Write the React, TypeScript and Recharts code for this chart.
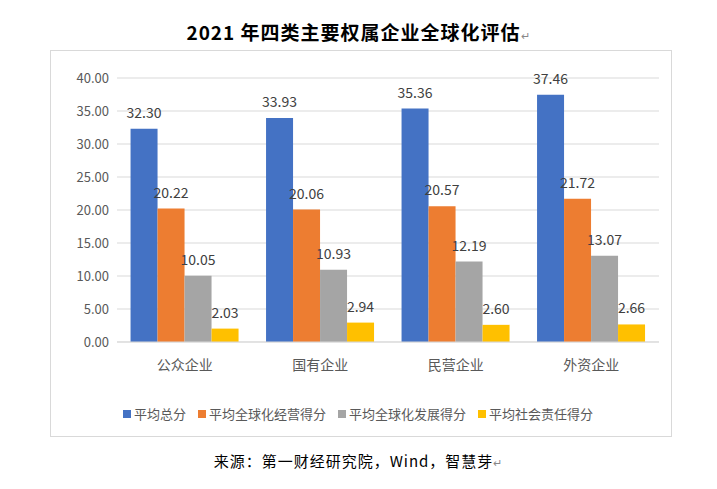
import { BarChart, Bar, XAxis, YAxis, CartesianGrid, Legend, LabelList } from "recharts";

const categories = ["公众企业", "国有企业", "民营企业", "外资企业"];
const totalScore = [32.3, 33.93, 35.36, 37.46];
const operationScore = [20.22, 20.06, 20.57, 21.72];
const developScore = [10.05, 10.93, 12.19, 13.07];
const socialScore = [2.03, 2.94, 2.6, 2.66];
const yTicks = [0, 5, 10, 15, 20, 25, 30, 35, 40];

const data = categories.map((name, i) => ({
  name,
  total: totalScore[i],
  operation: operationScore[i],
  develop: developScore[i],
  social: socialScore[i],
}));

const series = [
  { key: "total", name: "平均总分", color: "#4472C4" },
  { key: "operation", name: "平均全球化经营得分", color: "#ED7D31" },
  { key: "develop", name: "平均全球化发展得分", color: "#A5A5A5" },
  { key: "social", name: "平均社会责任得分", color: "#FFC000" },
];

const font = "'Noto Sans CJK SC', 'Noto Sans', sans-serif";

function LegendContent() {
  return (
    <div style={{ display: "flex", justifyContent: "center", gap: 12, paddingTop: 22, fontSize: 13, color: "#595959" }}>
      {series.map((s) => (
        <span key={s.key} style={{ display: "flex", alignItems: "center" }}>
          <span style={{ width: 8, height: 8, background: s.color, marginRight: 3, display: "inline-block" }} />
          {s.name}
        </span>
      ))}
    </div>
  );
}

export default function App() {
  return (
    <div style={{ position: "absolute", left: 0, top: 0, width: 717, height: 489, background: "#fff", fontFamily: font }}>
      <div style={{ position: "absolute", top: 18, width: 717, textAlign: "center", fontSize: 19, fontWeight: 700, color: "#000", letterSpacing: 1 }}>
        2021 年四类主要权属企业全球化评估<span style={{ fontSize: 11, fontWeight: 400, color: "#888" }}>↵</span>
      </div>
      <div style={{ position: "absolute", left: 50, top: 50, width: 622, height: 387, border: "1px solid #D9D9D9", boxSizing: "border-box" }}>
        <BarChart
          width={620}
          height={385}
          data={data}
          margin={{ top: 27, right: 12, left: 6, bottom: 0 }}
          barGap={0}
          barCategoryGap="10%"
        >
          <CartesianGrid vertical={false} stroke="#D9D9D9" />
          <XAxis
            dataKey="name"
            height={40}
            tickLine={false}
            axisLine={{ stroke: "#D9D9D9" }}
            tick={{ fill: "#595959", fontSize: 14 }}
            tickMargin={12}
          />
          <YAxis
            width={60}
            domain={[0, 40]}
            ticks={yTicks}
            tickFormatter={(v: number) => v.toFixed(2)}
            axisLine={false}
            tickLine={false}
            tick={{ fill: "#595959", fontSize: 13 }}
          />
          <Legend verticalAlign="bottom" height={54} content={<LegendContent />} />
          {series.map((s) => (
            <Bar key={s.key} dataKey={s.key} name={s.name} fill={s.color} isAnimationActive={false}>
              <LabelList
                dataKey={s.key}
                position="top"
                offset={11}
                formatter={(v: number) => v.toFixed(2)}
                style={{ fill: "#404040", fontSize: 14 }}
              />
            </Bar>
          ))}
        </BarChart>
      </div>
      <div style={{ position: "absolute", top: 450, width: 717, textAlign: "center", fontSize: 15, fontWeight: 400, color: "#000", letterSpacing: 1 }}>
        来源：第一财经研究院，Wind，智慧芽<span style={{ fontSize: 11, color: "#888" }}>↵</span>
      </div>
    </div>
  );
}
